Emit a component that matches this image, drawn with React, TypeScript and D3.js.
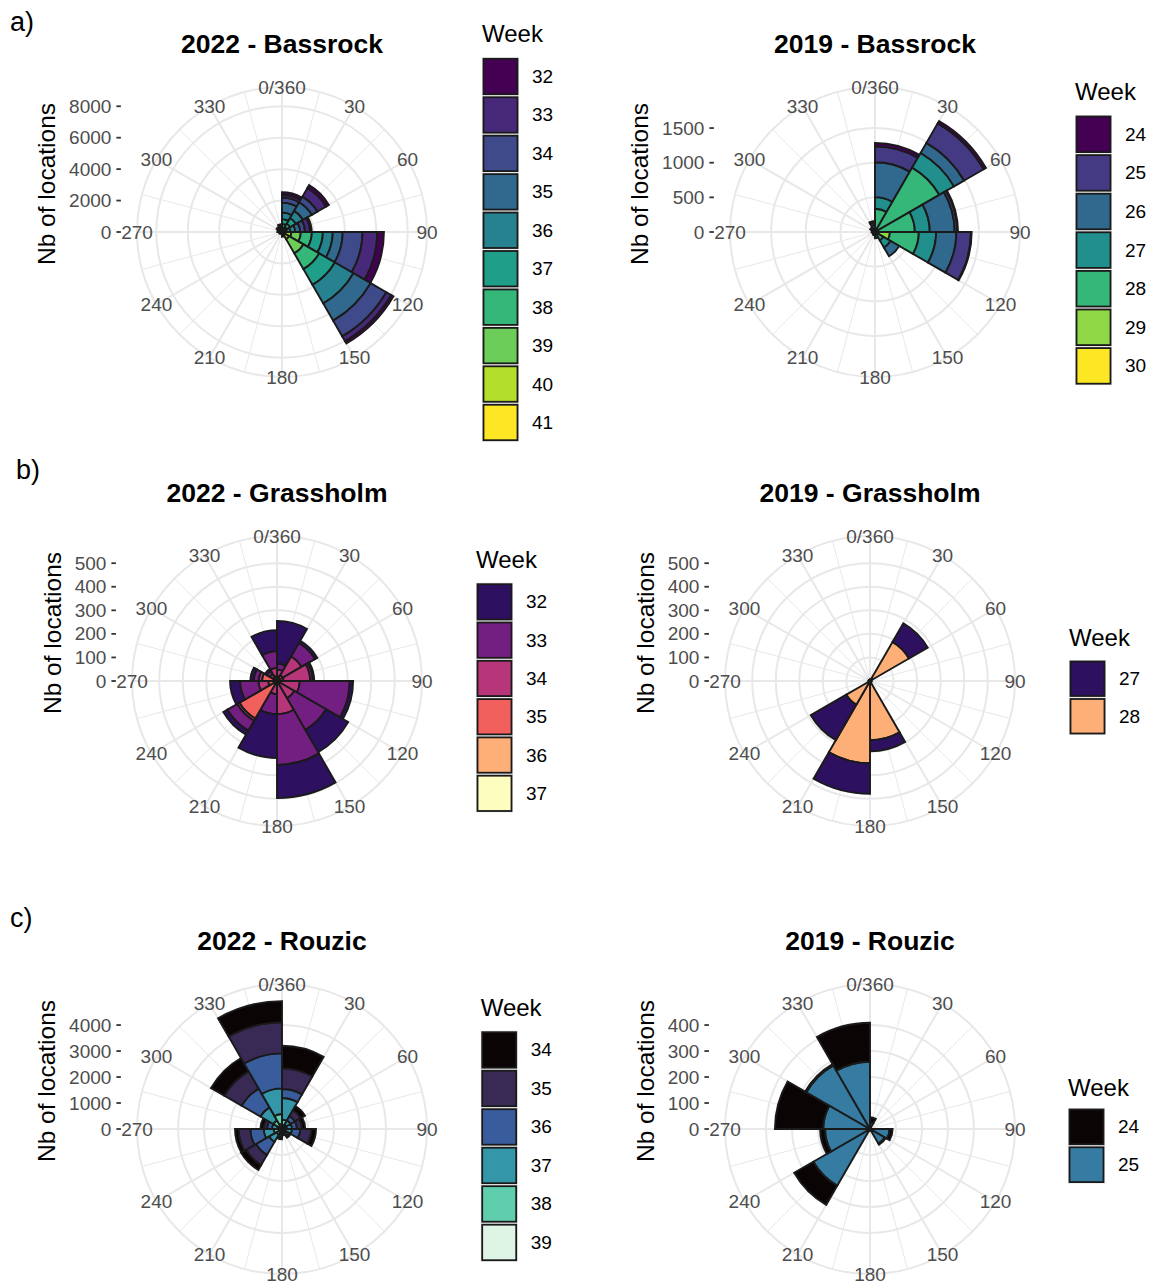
import React from "react";
import * as d3 from "d3";

// ---------- shared polar axis data ----------
const binStarts = [0, 30, 60, 90, 120, 150, 180, 210, 240, 270, 300, 330];
const binWidth = 30;
const thetaMajor = [0, 30, 60, 90, 120, 150, 180, 210, 240, 270, 300, 330];
const thetaMinor = [15, 45, 75, 105, 135, 165, 195, 225, 255, 285, 315, 345];
const thetaLabels = ["0/360", "30", "60", "90", "120", "150", "180", "210", "240", "270", "300", "330"];

// ---------- a) Bassrock ----------
const bassrock2022Weeks = [32, 33, 34, 35, 36, 37, 38, 39, 40, 41];
const bassrock2022Colors = ["#440154", "#482878", "#3E4A89", "#31688E", "#26828E", "#1F9E89", "#35B779", "#6DCD59", "#B4DE2C", "#FDE725"];
// rows = weeks, columns = 30° direction bins (0-30 ... 330-360)
const bassrock2022Counts = [
  [170, 210, 105, 420, 168, 60, 50, 40, 70, 100, 140, 160],
  [170, 630, 315, 945, 357, 60, 40, 30, 50, 80, 100, 120],
  [315, 420, 315, 1260, 1155, 60, 30, 20, 40, 60, 80, 100],
  [630, 630, 315, 630, 1260, 40, 20, 10, 20, 40, 50, 60],
  [420, 525, 315, 630, 1365, 40, 10, 0, 20, 20, 30, 40],
  [315, 420, 210, 700, 1155, 20, 0, 0, 0, 0, 0, 20],
  [210, 252, 210, 700, 1155, 20, 0, 0, 0, 0, 0, 0],
  [170, 210, 105, 600, 1050, 0, 0, 0, 0, 0, 0, 0],
  [84, 105, 0, 400, 315, 0, 0, 0, 0, 0, 0, 0],
  [42, 42, 0, 200, 210, 0, 0, 0, 0, 0, 0, 0],
];
const bassrock2022Ticks = [0, 2000, 4000, 6000, 8000];
const bassrock2022Max = 8200;

const bassrock2019Weeks = [24, 25, 26, 27, 28, 29, 30];
const bassrock2019Colors = ["#440154", "#443A83", "#31688E", "#21908C", "#35B779", "#8FD744", "#FDE725"];
const bassrock2019Counts = [
  [48, 38, 10, 10, 0, 0, 0, 0, 0, 0, 10, 20],
  [230, 326, 38, 211, 0, 0, 10, 0, 0, 10, 20, 40],
  [503, 168, 359, 292, 144, 40, 20, 20, 20, 20, 30, 50],
  [168, 244, 216, 249, 120, 30, 20, 20, 20, 20, 20, 30],
  [325, 1073, 575, 417, 100, 20, 0, 0, 0, 0, 0, 20],
  [10, 0, 0, 168, 40, 0, 0, 0, 0, 0, 0, 0],
  [0, 0, 0, 48, 0, 0, 0, 0, 0, 0, 0, 0],
];
const bassrock2019Ticks = [0, 500, 1000, 1500];
const bassrock2019Max = 1860;

// ---------- b) Grassholm ----------
const grassholm2022Weeks = [32, 33, 34, 35, 36, 37];
const grassholm2022Colors = ["#2D1160", "#721F81", "#B63679", "#F1605D", "#FEAF77", "#FCFDBF"];
const grassholm2022Counts = [
  [181, 11, 6, 14, 109, 141, 186, 20, 42, 14, 10, 89],
  [25, 66, 11, 212, 155, 215, 85, 48, 78, 21, 15, 71],
  [28, 92, 113, 97, 85, 141, 56, 11, 42, 14, 15, 35],
  [21, 28, 28, 0, 0, 0, 0, 170, 30, 58, 20, 21],
  [0, 0, 0, 0, 0, 0, 0, 8, 7, 6, 0, 0],
  [0, 0, 0, 0, 0, 0, 0, 6, 0, 0, 0, 0],
];
const grassholm2022Ticks = [0, 100, 200, 300, 400, 500];
const grassholm2022Max = 547;

const grassholm2019Weeks = [27, 28];
const grassholm2019Colors = ["#2D1160", "#FEAF77"];
const grassholm2019Counts = [
  [3, 92, 2, 2, 3, 47, 130, 174, 2, 2, 2, 2],
  [4, 191, 3, 2, 4, 251, 349, 116, 3, 2, 2, 3],
];
const grassholm2019Ticks = [0, 100, 200, 300, 400, 500];
const grassholm2019Max = 547;

// ---------- c) Rouzic ----------
const rouzic2022Weeks = [34, 35, 36, 37, 38, 39];
const rouzic2022Colors = ["#0B0405", "#382A54", "#395D9C", "#3497A9", "#60CEAC", "#DEF5E5"];
const rouzic2022Counts = [
  [870, 192, 128, 180, 64, 64, 80, 218, 141, 128, 590, 820],
  [795, 256, 192, 423, 128, 64, 100, 449, 449, 128, 769, 1192],
  [346, 192, 192, 320, 96, 64, 120, 577, 513, 192, 833, 1346],
  [833, 192, 192, 256, 64, 32, 64, 320, 385, 192, 577, 987],
  [230, 128, 128, 128, 32, 32, 32, 192, 218, 128, 256, 385],
  [130, 64, 64, 0, 0, 0, 0, 64, 102, 64, 128, 192],
];
const rouzic2022Ticks = [0, 1000, 2000, 3000, 4000];
const rouzic2022Max = 4960;

const rouzic2019Weeks = [24, 25];
const rouzic2019Colors = ["#0B0405", "#357BA2"];
const rouzic2019Counts = [
  [20, 2, 2, 12, 5, 2, 0, 85, 19, 186, 5, 150],
  [25, 3, 2, 75, 65, 3, 2, 252, 173, 180, 283, 259],
];
const rouzic2019Ticks = [0, 100, 200, 300, 400];
const rouzic2019Max = 496;

// ---------- geometry ----------
const OUTER = 145; // ggplot 0.45 circle
const R0 = (OUTER * 0.4) / 0.45; // max radial extent
const HALF = (OUTER * 0.5) / 0.45; // half panel width
const FONT = "'Liberation Sans', Arial, Helvetica, sans-serif";
const TICK_FS = 19;
const GRID = "#E8E8E8";
const BAR_STROKE = "#1A1A1A";

type LegendPos = { x: number; titleY: number; keyTop: number; keyH: number };
type PanelProps = {
  cx: number;
  cy: number;
  title: string;
  weeks: number[];
  counts: number[][];
  colors: string[];
  rMax: number;
  ticks: number[];
  legend: LegendPos;
};

const toRad = (d: number) => (d * Math.PI) / 180;

function Panel(p: PanelProps) {
  const r = d3.scaleLinear().domain([0, p.rMax]).range([0, R0]);
  const arc = d3.arc<any>();

  const segs: { d: string; fill: string; key: string }[] = [];
  binStarts.forEach((b, bi) => {
    let acc = 0;
    for (let wi = p.weeks.length - 1; wi >= 0; wi--) {
      const v = p.counts[wi][bi];
      if (!(v > 0)) continue;
      const d = arc({
        innerRadius: r(acc),
        outerRadius: r(acc + v),
        startAngle: toRad(b),
        endAngle: toRad(b + binWidth),
      }) as string;
      segs.push({ d, fill: p.colors[wi], key: `${bi}-${wi}` });
      acc += v;
    }
  });

  const left = p.cx - HALF;
  const tickLen = 4.5;
  const labelGap = 5;
  const labelW = d3.max(p.ticks, (t) => String(t).length)! * 0.556 * TICK_FS;
  const yTitleX = left - tickLen - labelGap - labelW - 22.5;

  return (
    <g>
      {/* grid */}
      {thetaMinor.map((t) => (
        <line
          key={"mi" + t}
          x1={p.cx}
          y1={p.cy}
          x2={p.cx + OUTER * Math.sin(toRad(t))}
          y2={p.cy - OUTER * Math.cos(toRad(t))}
          stroke={GRID}
          strokeWidth={1}
        />
      ))}
      {thetaMajor.map((t) => (
        <line
          key={"ma" + t}
          x1={p.cx}
          y1={p.cy}
          x2={p.cx + OUTER * Math.sin(toRad(t))}
          y2={p.cy - OUTER * Math.cos(toRad(t))}
          stroke={GRID}
          strokeWidth={2}
        />
      ))}
      {p.ticks
        .filter((t) => t > 0)
        .map((t) => (
          <circle key={"c" + t} cx={p.cx} cy={p.cy} r={r(t)} fill="none" stroke={GRID} strokeWidth={2} />
        ))}
      <circle cx={p.cx} cy={p.cy} r={OUTER} fill="none" stroke={GRID} strokeWidth={2} />

      {/* bars */}
      <g transform={`translate(${p.cx},${p.cy})`}>
        {segs.map((s) => (
          <path key={s.key} d={s.d} fill={s.fill} stroke={BAR_STROKE} strokeWidth={1.9} strokeLinejoin="miter" />
        ))}
      </g>

      {/* theta labels */}
      {thetaMajor.map((t, i) => (
        <text
          key={"tl" + t}
          x={p.cx + OUTER * Math.sin(toRad(t))}
          y={p.cy - OUTER * Math.cos(toRad(t))}
          textAnchor="middle"
          dominantBaseline="central"
          fontSize={TICK_FS}
          fill="#4D4D4D"
        >
          {thetaLabels[i]}
        </text>
      ))}

      {/* radial axis */}
      {p.ticks.map((t) => (
        <g key={"rt" + t}>
          <line x1={left - tickLen} x2={left} y1={p.cy - r(t)} y2={p.cy - r(t)} stroke="#333333" strokeWidth={1.8} />
          <text
            x={left - tickLen - labelGap}
            y={p.cy - r(t)}
            textAnchor="end"
            dominantBaseline="central"
            fontSize={TICK_FS}
            fill="#4D4D4D"
          >
            {t}
          </text>
        </g>
      ))}
      <text
        transform={`translate(${yTitleX},${p.cy - 48}) rotate(-90)`}
        textAnchor="middle"
        dominantBaseline="central"
        fontSize={24.5}
        fill="#000"
      >
        Nb of locations
      </text>

      {/* title */}
      <text
        x={p.cx}
        y={p.cy - 188}
        textAnchor="middle"
        dominantBaseline="central"
        fontSize={26.5}
        fontWeight="bold"
        fill="#000"
      >
        {p.title}
      </text>

      {/* legend */}
      <text x={p.legend.x} y={p.legend.titleY} dominantBaseline="central" fontSize={24} fill="#000">
        Week
      </text>
      {p.weeks.map((w, i) => {
        const y = p.legend.keyTop + i * p.legend.keyH;
        return (
          <g key={"lg" + w}>
            <rect x={p.legend.x} y={y} width={37} height={p.legend.keyH} fill="#E6E6E6" />
            <rect
              x={p.legend.x + 1.5}
              y={y + 1.5}
              width={34}
              height={p.legend.keyH - 3}
              fill={p.colors[i]}
              stroke={BAR_STROKE}
              strokeWidth={1.8}
            />
            <text
              x={p.legend.x + 50}
              y={y + p.legend.keyH / 2}
              dominantBaseline="central"
              fontSize={19}
              fill="#000"
            >
              {w}
            </text>
          </g>
        );
      })}
    </g>
  );
}

export default function App() {
  return (
    <svg
      width={1151}
      height={1283}
      viewBox="0 0 1151 1283"
      style={{ position: "absolute", left: 0, top: 0, background: "#fff" }}
      fontFamily={FONT}
    >
      <rect x={0} y={0} width={1151} height={1283} fill="#fff" />
      <text x={10} y={31} fontSize={27} fill="#000">a)</text>
      <text x={16} y={479} fontSize={27} fill="#000">b)</text>
      <text x={10} y={927} fontSize={27} fill="#000">c)</text>

      <Panel
        cx={282}
        cy={232}
        title="2022 - Bassrock"
        weeks={bassrock2022Weeks}
        counts={bassrock2022Counts}
        colors={bassrock2022Colors}
        rMax={bassrock2022Max}
        ticks={bassrock2022Ticks}
        legend={{ x: 482, titleY: 33, keyTop: 57.3, keyH: 38.44 }}
      />
      <Panel
        cx={875}
        cy={232}
        title="2019 - Bassrock"
        weeks={bassrock2019Weeks}
        counts={bassrock2019Counts}
        colors={bassrock2019Colors}
        rMax={bassrock2019Max}
        ticks={bassrock2019Ticks}
        legend={{ x: 1075, titleY: 91, keyTop: 115, keyH: 38.6 }}
      />
      <Panel
        cx={277}
        cy={681}
        title="2022 - Grassholm"
        weeks={grassholm2022Weeks}
        counts={grassholm2022Counts}
        colors={grassholm2022Colors}
        rMax={grassholm2022Max}
        ticks={grassholm2022Ticks}
        legend={{ x: 476, titleY: 559, keyTop: 582.7, keyH: 38.3 }}
      />
      <Panel
        cx={870}
        cy={681}
        title="2019 - Grassholm"
        weeks={grassholm2019Weeks}
        counts={grassholm2019Counts}
        colors={grassholm2019Colors}
        rMax={grassholm2019Max}
        ticks={grassholm2019Ticks}
        legend={{ x: 1069, titleY: 637, keyTop: 660, keyH: 37.5 }}
      />
      <Panel
        cx={282}
        cy={1129}
        title="2022 - Rouzic"
        weeks={rouzic2022Weeks}
        counts={rouzic2022Counts}
        colors={rouzic2022Colors}
        rMax={rouzic2022Max}
        ticks={rouzic2022Ticks}
        legend={{ x: 480.7, titleY: 1007, keyTop: 1030.7, keyH: 38.5 }}
      />
      <Panel
        cx={870}
        cy={1129}
        title="2019 - Rouzic"
        weeks={rouzic2019Weeks}
        counts={rouzic2019Counts}
        colors={rouzic2019Colors}
        rMax={rouzic2019Max}
        ticks={rouzic2019Ticks}
        legend={{ x: 1068, titleY: 1087, keyTop: 1108, keyH: 37.8 }}
      />
    </svg>
  );
}
